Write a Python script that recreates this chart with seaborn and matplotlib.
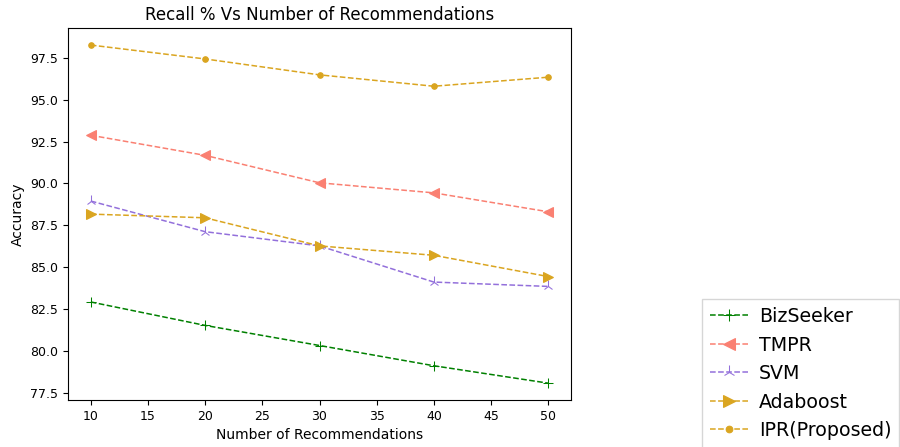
import matplotlib
matplotlib.use('Agg')
import matplotlib.pyplot as plt
import seaborn as sns
import pandas as pd

# number of recommendations on x
recs = [10, 20, 30, 40, 50]

# accuracy values
bizseeker = [82.92, 81.52, 80.32, 79.11, 78.07]
tmpr = [92.88, 91.68, 90.04, 89.44, 88.31]
svm = [88.95, 87.12, 86.27, 84.11, 83.85]
adaboost = [88.17, 87.95, 86.27, 85.71, 84.44]
ipr = [98.27, 97.44, 96.49, 95.81, 96.35]

names = ['BizSeeker', 'TMPR', 'SVM', 'Adaboost', 'IPR(Proposed)']
series = [bizseeker, tmpr, svm, adaboost, ipr]
colors = ['green', 'salmon', 'mediumpurple', 'goldenrod', 'goldenrod']
markers = ['+', '<', '2', '>', 'o']
msizes = [7, 7, 8, 7, 4]

fig = plt.figure(figsize=(9, 4.47), dpi=100)
ax = fig.add_axes([0.0755, 0.105, 0.5590, 0.832])

for name, vals, c, m, ms in zip(names, series, colors, markers, msizes):
    df = pd.DataFrame({'recs': recs, 'acc': vals})
    sns.lineplot(data=df, x='recs', y='acc', ax=ax, color=c, marker=m,
                 markersize=ms, linestyle='--', linewidth=1.1,
                 markeredgecolor=c, label=name)

ax.set_title('Recall % Vs Number of Recommendations', fontsize=12)
ax.set_xlabel('Number of Recommendations', fontsize=10)
ax.set_ylabel('Accuracy', fontsize=10)
ax.tick_params(labelsize=9)
ax.set_xticks([10, 15, 20, 25, 30, 35, 40, 45, 50])
ax.set_yticks([77.5, 80.0, 82.5, 85.0, 87.5, 90.0, 92.5, 95.0, 97.5])
ax.set_yticklabels(['77.5', '80.0', '82.5', '85.0', '87.5', '90.0', '92.5', '95.0', '97.5'])

ax.legend(loc='upper left', bbox_to_anchor=(0.78, 0.33),
          bbox_transform=fig.transFigure, fontsize=13.7, fancybox=False,
          borderaxespad=0, handlelength=2.0, handletextpad=0.6,
          markerscale=1.2)

fig.savefig('out.png', dpi=100)
